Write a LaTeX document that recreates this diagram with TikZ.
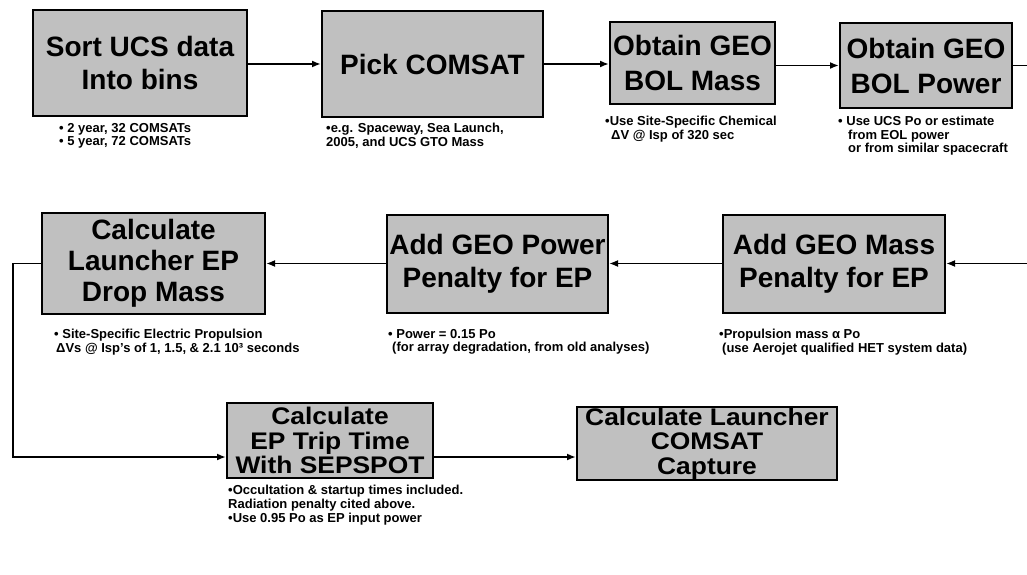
\documentclass[tikz,border=0pt]{standalone}
\usepackage{fontspec}
\setmainfont{Liberation Sans}
\newfontfamily\widesans{Liberation Sans}[FakeStretch=1.1]
\usetikzlibrary{arrows.meta}
\definecolor{boxgray}{RGB}{192,192,192}
\begin{document}
\begin{tikzpicture}[x=1pt,y=-1pt,
  box/.style={draw=black,line width=2pt,fill=boxgray,align=center,inner sep=0pt,
    font=\fontsize{28}{33}\selectfont\bfseries},
  smallbox/.style={box,font=\widesans\fontsize{24}{24.5}\selectfont\bfseries},
  note/.style={anchor=north west,align=left,inner sep=0pt,
    font=\fontsize{13}{13.5}\selectfont\bfseries},
  arr/.style={line width=1.8pt,-{Latex[length=9pt,width=7pt]}},
  conn/.style={line width=1.8pt}]
\useasboundingbox (0,0) rectangle (1027,575);

% row 1
\node[box,minimum width=214pt,minimum height=106pt] (b1) at (140,63) {Sort UCS data\\Into bins};
\node[box,minimum width=221pt,minimum height=106pt] (b2) at (432.5,64) {Pick COMSAT};
\node[box,minimum width=165pt,minimum height=82pt,font=\fontsize{28}{35}\selectfont\bfseries] (b3) at (692.5,63) {Obtain GEO\\BOL Mass};
\node[box,minimum width=172pt,minimum height=85pt,font=\fontsize{28}{35}\selectfont\bfseries] (b4) at (926,65.5) {Obtain GEO\\BOL Power};
\coordinate (r1) at (1027,65.5);

% row 2
\node[box,minimum width=223pt,minimum height=101pt,font=\fontsize{28}{31}\selectfont\bfseries] (b5) at (153.5,263.5) {Calculate\\Launcher EP\\Drop Mass};
\node[box,minimum width=221pt,minimum height=98pt] (b6) at (497.5,263.5) {Add GEO Power\\Penalty for EP};
\node[box,minimum width=222pt,minimum height=98pt] (b7) at (834,263.5) {Add GEO Mass\\Penalty for EP};
\coordinate (r2) at (1027,263.5);
\coordinate (l1) at (13,263.5);
\coordinate (l2) at (13,457);

% row 3
\node[smallbox,minimum width=206pt,minimum height=75pt] (b8) at (330,440.5) {Calculate\\EP Trip Time\\With SEPSPOT};
\node[smallbox,minimum width=260pt,minimum height=73pt] (b9) at (707,443.5) {Calculate Launcher\\COMSAT\\Capture};

% connectors
\draw[arr] (b1.east |- b2) -- (b2);
\draw[arr] (b2) -- (b3.west |- b2);
\draw[arr] (b3.east |- b4) -- (b4);
\draw[conn] (b4) -- (r1);
\draw[arr] (r2) -- (b7);
\draw[arr] (b7) -- (b6);
\draw[arr] (b6) -- (b5);
\draw[arr] (b5.west) -- (l1) -- (l2) -- (b8.west |- l2);
\draw[arr] (b8.east |- l2) -- (b9.west |- l2);

% notes
\node[note] (n1) at (59,123) {• 2 year, 32 COMSATs\\• 5 year, 72 COMSATs};
\node[note] (n2) at (326,123) {•e.g. Spaceway, Sea Launch,\\2005, and UCS GTO Mass};
\node[note] (n3) at (605,116) {•Use Site-Specific Chemical\\\hspace{6pt}ΔV @ Isp of 320 sec};
\node[note] (n4) at (838,116) {• Use UCS Po or estimate\\\hspace{10pt}from EOL power\\\hspace{10pt}or from similar spacecraft};
\node[note] (n5) at (54,329) {• Site-Specific Electric Propulsion\\\hspace{2pt}ΔVs @ Isp's of 1, 1.5, \& 2.1 10³ seconds};
\node[note] (n6) at (388,329) {• Power = 0.15 Po\\\hspace{4pt}(for array degradation, from old analyses)};
\node[note] (n7) at (719,329) {•Propulsion mass α Po\\\hspace{3pt}(use Aerojet qualified HET system data)};
\node[note,font=\fontsize{13}{14}\selectfont\bfseries] (n8) at (228,485) {•Occultation \& startup times included.\\Radiation penalty cited above.\\•Use 0.95 Po as EP input power};
\end{tikzpicture}
\end{document}
